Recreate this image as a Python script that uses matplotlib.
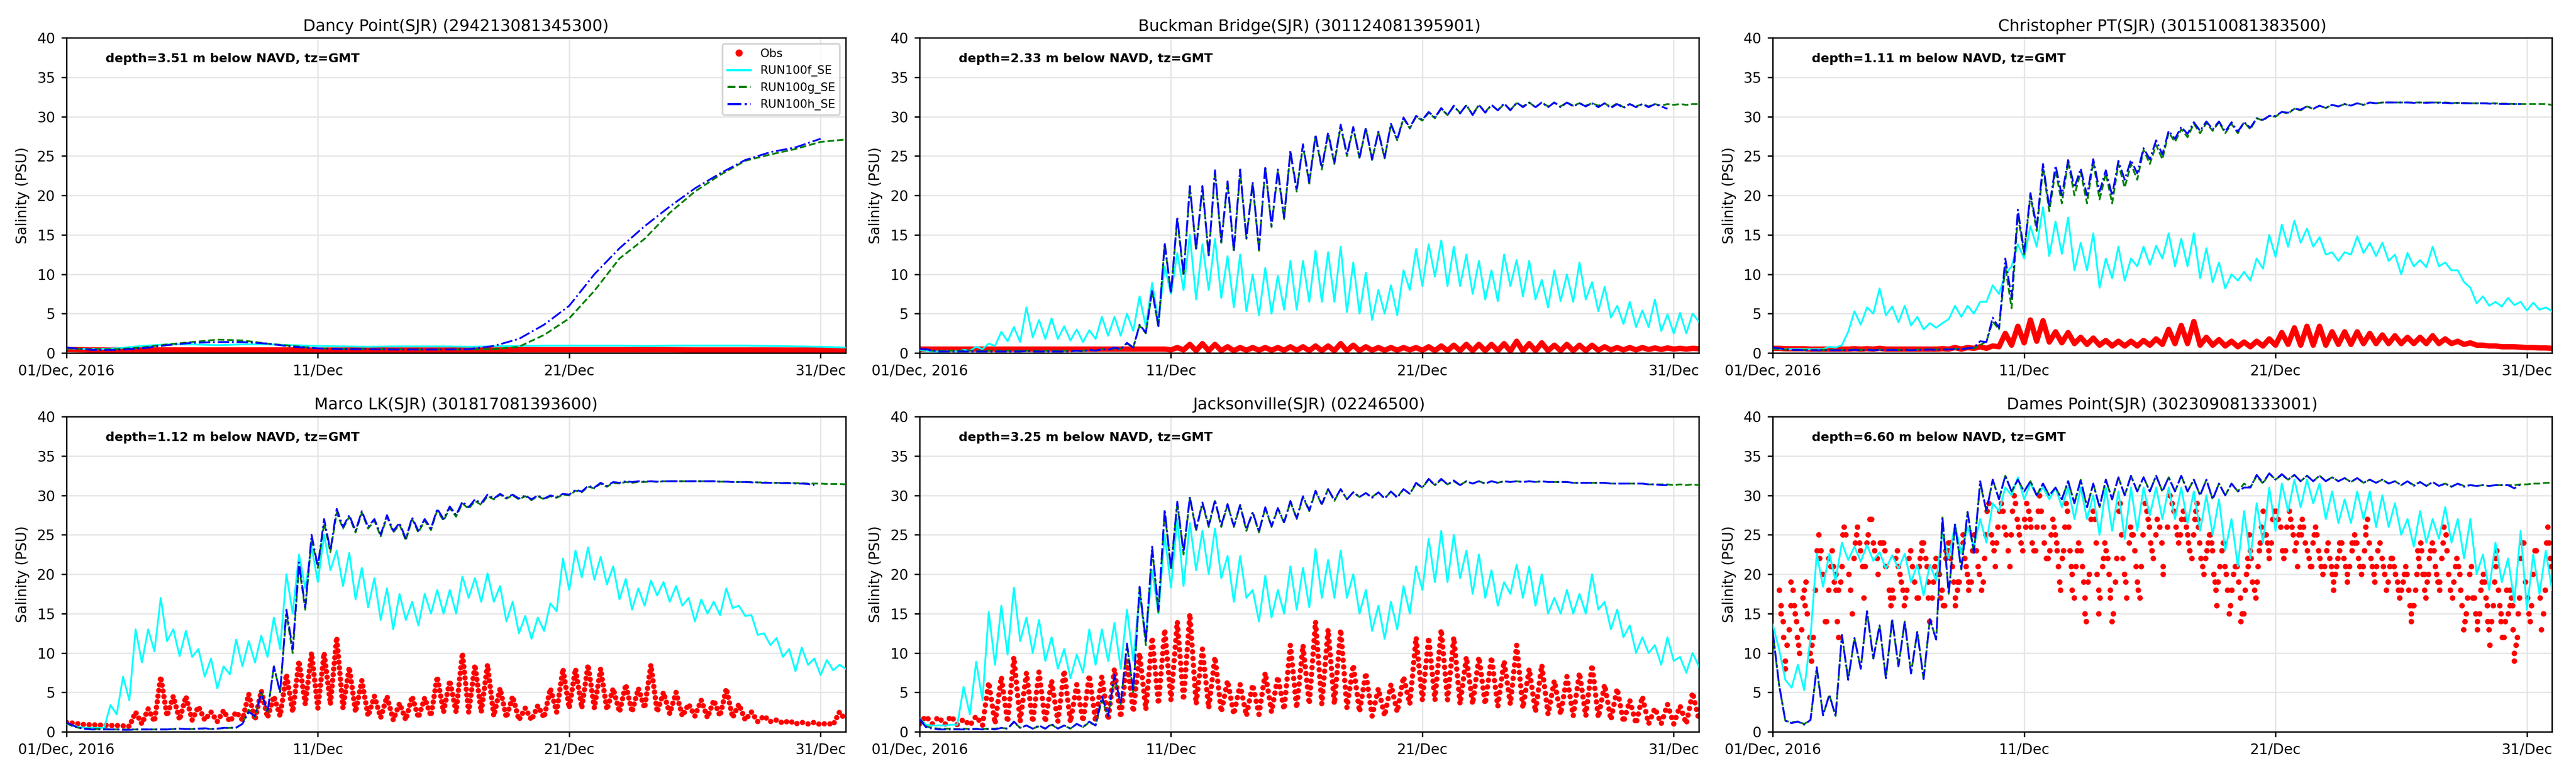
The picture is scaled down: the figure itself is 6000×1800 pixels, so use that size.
import matplotlib

matplotlib.use('Agg')  # no display in the sandbox
import matplotlib.pyplot as plt
from matplotlib.lines import Line2D
import numpy as np

# time axis: days since 01/Dec/2016 00:00 GMT
# model series are read off the picture every 6 h (4 values per day line)
t_6h = np.arange(125) * 0.25
t_day = np.arange(32) * 1.0

tick_days = [0, 10, 20, 30]
tick_labels = ['01/Dec, 2016', '11/Dec', '21/Dec', '31/Dec']

titles = ['Dancy Point(SJR) (294213081345300)',
          'Buckman Bridge(SJR) (301124081395901)',
          'Christopher PT(SJR) (301510081383500)',
          'Marco LK(SJR) (301817081393600)',
          'Jacksonville(SJR) (02246500)',
          'Dames Point(SJR) (302309081333001)']
depths = ['3.51', '2.33', '1.11', '1.12', '3.25', '6.60']
run_names = ['RUN100f_SE', 'RUN100g_SE', 'RUN100h_SE']

# ---------------- Dancy Point (daily values) ----------------
dancy_obs = [0.45, 0.4, 0.4, 0.4, 0.4, 0.4, 0.4, 0.4, 0.4, 0.4, 0.38, 0.38, 0.38, 0.38, 0.38, 0.38,
             0.4, 0.4, 0.42, 0.42, 0.42, 0.42, 0.42, 0.42, 0.42, 0.4, 0.4, 0.4, 0.4, 0.38, 0.38, 0.38]
dancy_f = [0.6, 0.5, 0.6, 0.9, 1.1, 1.1, 1.0, 1.1, 1.1, 1.0, 0.9, 0.85, 0.8, 0.85, 0.85, 0.85,
           0.8, 0.85, 0.9, 0.95, 0.95, 0.95, 0.95, 0.9, 0.95, 0.95, 0.95, 0.95, 0.9, 0.85, 0.8, 0.7]
dancy_g = [0.6, 0.5, 0.5, 0.7, 1.1, 1.4, 1.7, 1.6, 1.2, 0.9, 0.6, 0.55, 0.5, 0.5, 0.45, 0.45,
           0.45, 0.5, 0.8, 2.3, 4.4, 7.9, 12.0, 14.5, 17.8, 20.5, 22.6, 24.4, 25.2, 25.9, 26.8, 27.1]
dancy_h = [0.7, 0.4, 0.4, 0.6, 1.0, 1.3, 1.4, 1.4, 1.2, 0.8, 0.6, 0.5, 0.5, 0.45, 0.45, 0.45,
           0.5, 0.9, 1.8, 3.6, 6.0, 10.0, 13.3, 16.1, 18.6, 20.9, 22.8, 24.5, 25.5, 26.1, 27.2]

# ---------------- Buckman Bridge ----------------
buckman_obs = [
    0.5, 0.5, 0.5, 0.5, 0.5, 0.5, 0.5, 0.5, 0.5, 0.5, 0.5, 0.5, 0.5, 0.5, 0.5, 0.5,
    0.5, 0.5, 0.5, 0.5, 0.5, 0.5, 0.5, 0.5, 0.5, 0.5, 0.5, 0.5, 0.5, 0.5, 0.5, 0.5,
    0.5, 0.5, 0.5, 0.5, 0.5, 0.5, 0.5, 0.5,
    0.4, 0.7, 0.4, 1.1,
    0.3, 1.2, 0.3, 1.1,
    0.3, 0.8, 0.3, 0.7,
    0.35, 0.7, 0.35, 0.7,
    0.35, 0.7, 0.35, 0.8,
    0.35, 0.8, 0.3, 0.9,
    0.3, 0.9, 0.3, 1.2,
    0.3, 1.0, 0.3, 0.8,
    0.35, 0.7, 0.35, 0.7,
    0.35, 0.7, 0.4, 0.7,
    0.35, 0.8, 0.3, 0.9,
    0.3, 1.0, 0.3, 1.1,
    0.3, 1.1, 0.3, 1.1,
    0.3, 1.2, 0.25, 1.5,
    0.25, 1.2, 0.3, 1.3,
    0.3, 1.0, 0.3, 1.1,
    0.3, 1.0, 0.3, 1.0,
    0.35, 0.8, 0.4, 0.7,
    0.4, 0.7, 0.4, 0.7,
    0.45, 0.65, 0.45, 0.65,
    0.5, 0.6, 0.5, 0.6,
    0.55]
buckman_f = [
    0.4, 0.3, 0.2, 0.2,
    0.2, 0.3, 0.2, 0.4,
    0.3, 0.8, 0.5, 1.2,
    0.9, 2.7, 1.5, 3.3,
    1.4, 5.8, 2.0, 4.2,
    1.8, 4.4, 1.8, 3.4,
    1.6, 3.0, 1.4, 2.9,
    1.8, 4.6, 2.2, 4.6,
    2.2, 5.0, 2.8, 7.2,
    3.3, 8.9, 4.0, 11.0,
    7.5, 12.7, 8.0, 15.0,
    6.8, 13.8, 8.0, 14.5,
    7.0, 12.3, 5.8, 12.5,
    5.3, 10.0, 4.8, 10.8,
    5.0, 9.8, 5.5, 11.7,
    5.5, 11.7, 6.5, 13.0,
    6.5, 12.8, 6.5, 13.5,
    5.2, 11.5, 5.0, 10.2,
    4.2, 8.0, 5.0, 8.6,
    4.8, 10.5, 8.0, 13.2,
    8.5, 13.8, 9.7, 14.3,
    8.5, 13.5, 8.5, 12.5,
    7.5, 11.7, 6.8, 10.5,
    6.6, 12.5, 8.5, 11.8,
    7.2, 11.7, 6.8, 9.3,
    5.8, 10.5, 6.6, 10.0,
    6.5, 11.5, 6.8, 9.0,
    5.3, 8.4, 4.5, 6.0,
    3.7, 6.5, 3.3, 5.4,
    3.3, 6.8, 2.8, 4.9,
    2.5, 5.1, 2.5, 5.0,
    4.0]
buckman_g = [
    0.5, 0.4, 0.3, 0.3,
    0.3, 0.3, 0.3, 0.3,
    0.3, 0.3, 0.3, 0.3,
    0.3, 0.3, 0.3, 0.3,
    0.3, 0.3, 0.3, 0.3,
    0.3, 0.3, 0.3, 0.3,
    0.3, 0.3, 0.3, 0.4,
    0.3, 0.5, 0.4, 0.6,
    0.5, 1.2, 0.7, 3.5,
    2.5, 7.9, 3.3, 13.8,
    7.5, 17.0, 9.8, 21.0,
    13.0, 21.0, 12.2, 23.0,
    14.0, 21.5, 12.8, 23.0,
    14.5, 21.5, 13.0, 23.5,
    16.0, 23.0, 17.0, 25.5,
    20.5, 26.3, 21.5, 27.5,
    23.3, 27.8, 24.0, 28.8,
    25.0, 28.6, 24.7, 28.5,
    24.5, 28.0, 24.7, 29.0,
    27.0, 29.8, 28.5, 30.0,
    29.5, 30.5, 29.8, 31.0,
    30.2, 31.3, 30.5, 31.4,
    30.3, 31.5, 30.6, 31.5,
    30.8, 31.6, 30.9, 31.7,
    31.3, 31.8, 31.2, 31.8,
    31.3, 31.8, 31.3, 31.8,
    31.4, 31.7, 31.4, 31.7,
    31.4, 31.7, 31.2, 31.7,
    31.2, 31.6, 31.3, 31.6,
    31.3, 31.6, 31.4, 31.6,
    31.5, 31.6, 31.5, 31.6,
    31.6]
buckman_h = [
    0.5, 0.5, 0.3, 0.2,
    0.2, 0.2, 0.2, 0.2,
    0.2, 0.2, 0.2, 0.2,
    0.2, 0.2, 0.2, 0.2,
    0.2, 0.25, 0.2, 0.2,
    0.2, 0.2, 0.2, 0.2,
    0.2, 0.3, 0.2, 0.4,
    0.3, 0.5, 0.4, 0.7,
    0.5, 1.3, 0.7, 3.6,
    2.6, 8.0, 3.4, 14.0,
    7.6, 17.3, 10.0, 21.2,
    13.2, 21.2, 12.4, 23.2,
    14.2, 21.8, 13.0, 23.3,
    14.6, 21.7, 13.2, 23.7,
    16.2, 23.3, 17.2, 25.7,
    20.7, 26.5, 21.7, 27.7,
    23.5, 28.0, 24.2, 29.0,
    25.2, 28.7, 24.8, 28.6,
    24.6, 28.1, 24.8, 29.1,
    27.1, 29.9, 28.6, 30.1,
    29.6, 30.6, 29.9, 31.1,
    30.2, 31.4, 30.4, 31.5,
    30.2, 31.5, 30.5, 31.5,
    30.8, 31.7, 30.8, 31.8,
    31.2, 31.8, 31.2, 31.8,
    31.2, 31.8, 31.2, 31.8,
    31.3, 31.7, 31.3, 31.7,
    31.2, 31.7, 31.1, 31.6,
    31.1, 31.6, 31.2, 31.6,
    31.2, 31.6, 31.3, 31.0]

# ---------------- Christopher PT ----------------
christopher_obs = [
    0.6, 0.6, 0.55, 0.55,
    0.55, 0.55, 0.5, 0.5,
    0.5, 0.5, 0.5, 0.5,
    0.5, 0.55, 0.5, 0.55,
    0.5, 0.6, 0.5, 0.5,
    0.5, 0.5, 0.5, 0.5,
    0.5, 0.5, 0.5, 0.55,
    0.5, 0.7, 0.5, 0.7,
    0.6, 0.8, 0.6, 0.9,
    0.8, 2.5, 1.0, 3.4,
    1.3, 4.2, 1.5, 4.1,
    1.4, 2.7, 1.3, 2.6,
    1.2, 2.0, 1.1, 1.9,
    1.0, 1.6, 0.9, 1.5,
    0.9, 1.5, 0.9, 1.6,
    1.0, 1.8, 1.1, 3.0,
    1.2, 3.5, 1.2, 4.0,
    1.0, 2.0, 1.0, 1.7,
    0.9, 1.5, 0.8, 1.4,
    0.8, 1.5, 0.9, 1.8,
    1.0, 2.6, 1.1, 3.2,
    1.0, 3.4, 1.0, 3.4,
    1.0, 2.7, 1.1, 2.7,
    1.1, 2.7, 1.2, 2.5,
    1.2, 2.3, 1.2, 2.2,
    1.2, 2.0, 1.2, 2.0,
    1.2, 2.2, 1.2, 1.8,
    1.2, 1.5, 1.1, 1.3,
    1.0, 1.0, 0.9, 0.9,
    0.8, 0.8, 0.8, 0.75,
    0.7, 0.7, 0.65, 0.65,
    0.6]
christopher_f = [
    0.6, 0.5, 0.5, 0.5,
    0.5, 0.5, 0.5, 0.5,
    0.5, 0.8, 0.7, 1.0,
    2.7, 5.3, 3.6, 5.8,
    5.0, 8.2, 4.8, 5.9,
    3.9, 6.0, 3.5, 4.6,
    3.0, 3.8, 3.2, 3.8,
    4.3, 6.0, 4.6, 6.0,
    5.0, 6.5, 6.5, 8.6,
    7.5, 10.0, 11.0, 13.8,
    12.0, 16.1, 13.5, 18.5,
    12.3, 16.7, 12.6, 17.2,
    10.5, 14.0, 10.5, 15.2,
    8.3, 12.0, 9.5, 13.5,
    9.2, 12.0, 11.0, 13.5,
    11.2, 13.6, 12.0, 15.2,
    11.0, 14.5, 11.0, 15.2,
    9.5, 13.3, 9.0, 11.5,
    8.2, 10.0, 9.2, 10.3,
    9.2, 12.0, 10.7, 15.0,
    12.2, 16.3, 13.5, 16.8,
    14.0, 15.8, 13.5, 14.7,
    12.5, 12.8, 11.7, 12.8,
    12.5, 14.8, 12.7, 14.0,
    12.3, 14.0, 11.7, 12.5,
    10.0, 12.7, 11.0, 11.8,
    10.9, 13.5, 11.0, 11.5,
    10.5, 10.5, 9.0, 8.3,
    6.3, 7.2, 6.0, 6.5,
    5.9, 7.0, 6.1, 6.5,
    5.4, 6.4, 5.5, 5.8,
    5.3]
christopher_g = [
    0.6, 0.5, 0.45, 0.4,
    0.4, 0.4, 0.4, 0.4,
    0.4, 0.4, 0.4, 0.4,
    0.4, 0.45, 0.4, 0.45,
    0.4, 0.45, 0.4, 0.45,
    0.4, 0.45, 0.4, 0.45,
    0.45, 0.5, 0.45, 0.5,
    0.5, 0.55, 0.55, 0.6,
    0.6, 1.0, 1.5, 4.0,
    3.0, 11.0, 5.7, 17.5,
    12.5, 20.0, 15.5, 23.5,
    18.0, 23.2, 19.0, 24.3,
    20.0, 23.0, 19.0, 24.3,
    19.5, 22.8, 19.0, 24.0,
    21.0, 24.0, 22.0, 25.8,
    24.0, 26.4, 24.6, 28.0,
    26.8, 28.4, 27.4, 29.1,
    27.9, 29.2, 28.2, 29.3,
    27.9, 29.1, 27.9, 29.3,
    28.4, 29.8, 29.5, 30.1,
    30.0, 30.6, 30.4, 31.0,
    30.8, 31.3, 31.0, 31.4,
    31.1, 31.5, 31.3, 31.6,
    31.4, 31.7, 31.5, 31.8,
    31.7, 31.8, 31.8, 31.8,
    31.8, 31.8, 31.8, 31.8,
    31.8, 31.8, 31.8, 31.8,
    31.75, 31.75, 31.75, 31.7,
    31.7, 31.7, 31.7, 31.7,
    31.65, 31.65, 31.6, 31.6,
    31.6, 31.6, 31.6, 31.6,
    31.5]
christopher_h = [
    0.7, 0.6, 0.5, 0.4,
    0.4, 0.35, 0.35, 0.35,
    0.35, 0.35, 0.35, 0.35,
    0.35, 0.4, 0.35, 0.4,
    0.35, 0.4, 0.35, 0.4,
    0.35, 0.4, 0.35, 0.4,
    0.4, 0.45, 0.4, 0.45,
    0.45, 0.5, 0.5, 0.6,
    0.7, 1.5, 1.4, 4.5,
    3.2, 12.0, 7.0, 18.2,
    12.8, 20.3, 16.0, 24.0,
    18.5, 23.8, 20.0, 24.5,
    21.0, 23.4, 20.0, 24.6,
    20.5, 23.2, 20.0, 24.4,
    22.0, 24.5, 22.8, 26.0,
    24.6, 27.0, 25.2, 28.2,
    27.2, 28.7, 27.8, 29.3,
    28.2, 29.4, 28.4, 29.4,
    28.1, 29.3, 28.1, 29.3,
    28.6, 29.8, 29.6, 30.1,
    30.1, 30.6, 30.5, 31.0,
    30.9, 31.3, 31.0, 31.4,
    31.1, 31.5, 31.3, 31.6,
    31.4, 31.7, 31.5, 31.8,
    31.7, 31.8, 31.8, 31.8,
    31.8, 31.8, 31.75, 31.8,
    31.75, 31.8, 31.75, 31.75,
    31.7, 31.75, 31.7, 31.7,
    31.7, 31.7, 31.65, 31.65,
    31.6, 31.6, 31.6, 31.6]

# ---------------- Marco LK ----------------
marco_obs = [
    1.2, 1.1, 1.0, 0.9,
    0.9, 0.85, 0.85, 0.8,
    0.8, 0.75, 0.7, 2.5,
    1.0, 2.9, 1.3, 7.0,
    2.0, 4.5, 1.5, 4.5,
    1.5, 3.2, 1.5, 2.5,
    1.3, 2.7, 1.3, 2.5,
    1.5, 4.8, 1.5, 5.2,
    1.8, 4.5, 2.0, 7.3,
    2.5, 9.0, 3.5, 10.0,
    3.0, 10.0, 3.5, 12.0,
    3.0, 8.2, 2.5, 6.5,
    2.0, 4.5, 1.8, 4.5,
    1.5, 3.6, 1.5, 4.5,
    1.8, 4.3, 2.0, 7.0,
    2.5, 6.5, 2.5, 10.0,
    2.5, 8.5, 2.5, 8.5,
    2.0, 5.5, 1.8, 4.5,
    1.5, 3.0, 1.5, 3.3,
    1.8, 5.5, 2.5, 8.0,
    3.0, 8.0, 3.0, 8.5,
    3.0, 8.0, 2.8, 5.5,
    2.5, 6.0, 2.5, 5.5,
    3.0, 8.5, 2.5, 5.0,
    2.3, 5.0, 2.0, 3.5,
    2.0, 4.0, 1.8, 4.0,
    2.0, 5.5, 1.8, 3.5,
    1.5, 2.5, 1.3, 2.0,
    1.3, 1.5, 1.1, 1.4,
    1.0, 1.2, 1.0, 1.2,
    0.9, 1.1, 0.9, 2.5,
    1.5]
marco_f = [
    1.0, 0.8, 0.6, 0.5,
    0.5, 0.5, 0.5, 3.4,
    2.2, 7.0, 4.0, 13.0,
    8.8, 13.0, 10.2, 17.0,
    11.5, 13.0, 9.6, 12.8,
    9.5, 10.5, 7.0, 9.3,
    5.5, 8.3, 7.3, 11.7,
    8.3, 11.5, 8.8, 12.2,
    9.5, 14.5, 10.5, 20.0,
    15.0, 22.5, 18.2, 23.5,
    19.0, 25.0, 20.5, 23.0,
    18.5, 22.7, 16.8, 20.8,
    15.8, 19.5, 14.2, 18.2,
    13.0, 17.5, 14.2, 16.5,
    13.5, 17.5, 15.0, 18.0,
    15.0, 18.0, 15.0, 19.7,
    17.0, 19.5, 16.5, 20.1,
    16.5, 18.5, 14.0, 16.5,
    12.5, 14.7, 11.8, 14.5,
    12.8, 16.3, 15.3, 22.0,
    18.0, 23.0, 19.6, 23.4,
    19.3, 22.2, 18.7, 21.0,
    16.8, 19.4, 15.5, 18.2,
    16.0, 19.2, 17.3, 19.0,
    16.5, 18.5, 16.0, 17.0,
    14.0, 16.8, 15.0, 16.5,
    14.8, 18.2, 15.7, 16.0,
    14.7, 14.8, 12.3, 12.5,
    11.0, 11.9, 9.5, 10.5,
    7.7, 10.7, 8.5, 9.3,
    7.2, 9.1, 7.8, 8.5,
    8.0]
marco_g = [
    1.1, 0.7, 0.5, 0.4,
    0.4, 0.35, 0.35, 0.3,
    0.3, 0.3, 0.3, 0.3,
    0.3, 0.3, 0.3, 0.3,
    0.3, 0.35, 0.4, 0.35,
    0.35, 0.4, 0.4, 0.35,
    0.4, 0.45, 0.5, 0.5,
    1.0, 2.8, 1.8, 5.0,
    2.5, 8.3, 5.0, 15.0,
    10.0, 21.0, 15.5, 24.5,
    20.8, 26.5, 22.8, 27.8,
    25.8, 27.3, 25.3, 27.8,
    25.8, 26.8, 24.8, 27.3,
    25.3, 26.3, 24.3, 27.0,
    25.3, 26.8, 25.6, 28.1,
    26.8, 28.4, 27.3, 29.0,
    28.3, 29.3, 28.8, 29.9,
    29.5, 30.1, 29.6, 30.0,
    29.5, 29.9, 29.4, 29.9,
    29.5, 29.9, 29.7, 30.1,
    30.0, 30.6, 30.4, 31.1,
    30.9, 31.5, 31.1, 31.6,
    31.5, 31.7, 31.6, 31.7,
    31.7, 31.8, 31.7, 31.8,
    31.8, 31.8, 31.8, 31.8,
    31.8, 31.8, 31.8, 31.8,
    31.75, 31.75, 31.7, 31.7,
    31.7, 31.7, 31.65, 31.65,
    31.6, 31.6, 31.6, 31.6,
    31.55, 31.55, 31.5, 31.5,
    31.5, 31.45, 31.45, 31.45,
    31.4]
marco_h = [
    1.2, 0.8, 0.5, 0.35,
    0.3, 0.3, 0.3, 0.3,
    0.3, 0.25, 0.25, 0.3,
    0.3, 0.3, 0.3, 0.3,
    0.3, 0.35, 0.4, 0.35,
    0.35, 0.4, 0.45, 0.35,
    0.4, 0.5, 0.5, 0.55,
    1.0, 2.5, 2.0, 5.0,
    2.5, 8.3, 5.0, 15.5,
    10.5, 21.5, 15.8, 25.0,
    21.0, 27.0, 23.0, 28.3,
    26.0, 27.5, 25.5, 28.0,
    26.0, 27.0, 25.0, 27.5,
    25.5, 26.5, 24.5, 27.2,
    25.5, 27.0, 25.8, 28.3,
    27.0, 28.6, 27.5, 29.2,
    28.5, 29.5, 29.0, 30.1,
    29.6, 30.2, 29.7, 30.1,
    29.6, 30.0, 29.5, 30.0,
    29.6, 30.0, 29.8, 30.2,
    30.1, 30.7, 30.5, 31.2,
    31.0, 31.6, 31.2, 31.7,
    31.6, 31.8, 31.7, 31.8,
    31.75, 31.8, 31.75, 31.8,
    31.8, 31.8, 31.8, 31.8,
    31.8, 31.8, 31.8, 31.8,
    31.75, 31.75, 31.7, 31.7,
    31.7, 31.65, 31.65, 31.6,
    31.6, 31.6, 31.55, 31.55,
    31.5, 31.5, 31.45, 31.3]

# ---------------- Jacksonville ----------------
jax_obs = [
    1.0, 2.0, 1.0, 1.9,
    0.9, 2.0, 0.9, 1.6,
    0.8, 2.0, 0.8, 6.3,
    1.0, 7.0, 1.2, 9.5,
    1.3, 7.5, 1.2, 7.6,
    1.2, 6.5, 1.3, 7.8,
    1.2, 6.0, 1.3, 7.2,
    1.3, 7.0, 1.5, 8.0,
    1.8, 9.0, 2.5, 10.0,
    2.8, 12.0, 3.5, 13.0,
    4.0, 14.0, 4.0, 15.0,
    3.5, 10.5, 3.0, 9.5,
    2.5, 6.5, 2.2, 6.0,
    2.0, 6.0, 2.2, 7.5,
    2.5, 7.0, 2.8, 11.0,
    3.0, 11.0, 3.5, 14.0,
    3.5, 13.0, 3.5, 13.0,
    3.0, 8.5, 2.5, 7.5,
    2.0, 5.5, 2.0, 6.0,
    2.5, 7.0, 3.5, 12.0,
    4.0, 12.0, 4.0, 13.0,
    4.0, 12.0, 3.5, 9.5,
    3.5, 9.5, 3.5, 9.5,
    3.2, 9.0, 3.5, 11.0,
    3.0, 8.0, 2.5, 8.5,
    2.2, 6.5, 2.2, 7.0,
    2.0, 7.5, 2.0, 8.5,
    1.8, 6.0, 1.5, 5.5,
    1.2, 4.0, 1.0, 4.5,
    1.0, 3.0, 1.0, 3.5,
    1.0, 3.3, 1.0, 5.0,
    1.5]
jax_f = [
    1.7, 0.9, 0.8, 0.8,
    0.8, 0.9, 0.9, 5.7,
    2.2, 8.9, 4.0, 15.2,
    8.5, 16.0, 9.8, 18.3,
    11.5, 14.5, 10.0, 14.2,
    9.0, 12.0, 8.0, 10.5,
    6.8, 9.8, 7.5, 13.0,
    8.5, 13.0, 9.0, 13.8,
    8.0, 15.5, 9.0, 17.5,
    12.0, 20.5, 15.0, 25.0,
    18.3, 27.0, 18.5, 26.5,
    20.5, 25.5, 20.0, 25.8,
    19.5, 22.3, 16.5, 22.3,
    17.0, 18.0, 14.0, 19.8,
    14.5, 18.0, 15.0, 21.0,
    15.5, 20.8, 15.8, 23.2,
    17.0, 21.8, 17.0, 23.0,
    17.0, 20.0, 15.0, 18.0,
    12.8, 16.0, 11.8, 16.5,
    13.0, 18.5, 15.0, 21.0,
    18.0, 24.5, 19.0, 25.5,
    19.0, 25.0, 19.5, 23.0,
    17.5, 22.5, 17.0, 20.5,
    16.0, 19.0, 17.5, 21.2,
    17.0, 21.0, 16.0, 20.0,
    15.0, 17.0, 15.0, 18.0,
    15.0, 17.5, 15.0, 20.0,
    15.5, 16.5, 13.0, 15.5,
    12.0, 13.5, 10.0, 12.0,
    10.0, 11.0, 8.5, 12.0,
    9.0, 9.5, 7.5, 10.0,
    8.3]
jax_g = [
    1.7, 0.7, 0.5, 0.4,
    0.4, 0.4, 0.35, 0.4,
    0.35, 0.4, 0.35, 0.4,
    0.4, 0.5, 0.4, 1.2,
    0.5, 0.8, 0.4, 0.7,
    0.4, 0.9, 0.4, 0.8,
    0.4, 1.0, 0.6, 1.2,
    0.8, 4.0, 2.0, 7.0,
    3.5, 11.0, 5.0, 18.2,
    11.0, 23.3, 15.0, 28.0,
    20.5, 29.0, 22.5, 29.7,
    25.5, 29.0, 26.0, 29.3,
    26.0, 28.8, 26.0, 28.7,
    25.5, 27.8, 25.3, 28.4,
    26.0, 28.3, 26.5, 29.2,
    27.0, 29.8, 28.0, 30.5,
    28.8, 30.8, 29.3, 30.8,
    29.5, 30.4, 29.8, 30.3,
    29.8, 30.4, 29.6, 30.5,
    29.8, 30.8, 30.2, 31.5,
    31.0, 32.0, 31.3, 32.0,
    31.4, 31.8, 31.3, 31.8,
    31.5, 31.8, 31.5, 31.8,
    31.6, 31.8, 31.7, 31.8,
    31.7, 31.8, 31.7, 31.8,
    31.7, 31.7, 31.7, 31.7,
    31.6, 31.6, 31.6, 31.6,
    31.6, 31.6, 31.5, 31.5,
    31.5, 31.5, 31.5, 31.5,
    31.4, 31.4, 31.4, 31.4,
    31.3, 31.4, 31.3, 31.4,
    31.3]
jax_h = [
    1.6, 0.6, 0.4, 0.3,
    0.3, 0.3, 0.3, 0.3,
    0.3, 0.35, 0.3, 0.35,
    0.3, 0.5, 0.4, 1.3,
    0.5, 0.8, 0.4, 0.8,
    0.4, 1.0, 0.4, 0.8,
    0.4, 1.0, 0.6, 1.3,
    0.8, 4.5, 2.0, 7.2,
    3.5, 11.2, 5.2, 18.4,
    11.5, 23.5, 15.5, 28.2,
    20.8, 29.2, 22.8, 29.8,
    25.7, 29.1, 26.2, 29.4,
    26.2, 28.9, 26.1, 28.8,
    25.7, 27.9, 25.4, 28.5,
    26.1, 28.4, 26.6, 29.3,
    27.1, 29.9, 28.1, 30.6,
    28.9, 30.8, 29.4, 30.8,
    29.5, 30.4, 29.8, 30.3,
    29.7, 30.4, 29.6, 30.5,
    29.7, 30.8, 30.2, 31.6,
    31.0, 32.1, 31.3, 32.1,
    31.4, 31.9, 31.3, 31.8,
    31.5, 31.8, 31.5, 31.8,
    31.6, 31.8, 31.7, 31.8,
    31.7, 31.8, 31.7, 31.8,
    31.7, 31.7, 31.7, 31.7,
    31.6, 31.6, 31.6, 31.6,
    31.6, 31.6, 31.5, 31.5,
    31.5, 31.5, 31.5, 31.5,
    31.4, 31.4, 31.3, 31.3]

# ---------------- Dames Point ----------------
# hourly gauge record in whole PSU: (day, value) of each visible dot
dames_obs_day = [
    0.25, 0.32, 0.32, 0.40, 0.43, 0.50, 0.50, 0.57, 0.65, 0.72, 0.72, 0.80, 0.85, 0.89, 0.93, 0.98,
    1.02, 1.06, 1.14, 1.19, 1.24, 1.28, 1.31, 1.36, 1.46, 1.49, 1.53, 1.56, 1.61, 1.69, 1.76, 1.83,
    1.86, 1.91, 1.98, 2.08, 2.14, 2.21, 2.21, 2.31, 2.36, 2.41, 2.44, 2.51, 2.51, 2.56, 2.61, 2.61,
    2.69, 2.74, 2.78, 2.84, 2.91, 3.02, 3.09, 3.15, 3.22, 3.27, 3.32, 3.37, 3.45, 3.49, 3.57, 3.62,
    3.67, 3.74, 3.79, 3.85, 3.92, 4.00, 4.05, 4.14, 4.19, 4.27, 4.34, 4.40, 4.45, 4.49, 4.62, 4.67,
    4.70, 4.74, 4.79, 4.89, 4.95, 4.99, 5.05, 5.10, 5.18, 5.23, 5.28, 5.33, 5.41, 5.48, 5.55, 5.63,
    5.73, 5.78, 5.83, 5.86, 5.93, 5.93, 6.00, 6.08, 6.13, 6.18, 6.18, 6.24, 6.33, 6.38, 6.43, 6.48,
    6.56, 6.63, 6.68, 6.73, 6.78, 6.83, 6.88, 6.88, 6.98, 6.98, 7.07, 7.07, 7.14, 7.19, 7.26, 7.26,
    7.34, 7.34, 7.41, 7.49, 7.56, 7.56, 7.64, 7.69, 7.74, 7.79, 7.79, 7.89, 7.94, 8.01, 8.09, 8.17,
    8.21, 8.29, 8.36, 8.42, 8.47, 8.52, 8.59, 8.69, 8.74, 8.79, 8.84, 8.89, 8.94, 9.02, 9.08, 9.15,
    9.20, 9.27, 9.35, 9.43, 9.47, 9.52, 9.60, 9.65, 9.72, 9.77, 9.80, 9.87, 9.93, 10.00, 10.05, 10.10,
    10.18, 10.22, 10.27, 10.32, 10.38, 10.45, 10.50, 10.55, 10.60, 10.67, 10.75, 10.80, 10.87, 10.95,
    11.01, 11.06, 11.13, 11.18, 11.23, 11.28, 11.31, 11.36, 11.41, 11.44, 11.51, 11.56, 11.61, 11.66,
    11.71, 11.76, 11.81, 11.86, 11.91, 11.91, 11.98, 12.06, 12.11, 12.16, 12.26, 12.31, 12.36, 12.41,
    12.41, 12.46, 12.53, 12.59, 12.66, 12.74, 12.81, 12.86, 12.89, 12.96, 12.96, 13.02, 13.12, 13.15,
    13.20, 13.25, 13.32, 13.37, 13.42, 13.42, 13.49, 13.54, 13.62, 13.67, 13.77, 13.82, 13.87, 13.92,
    13.99, 14.04, 14.07, 14.17, 14.22, 14.27, 14.32, 14.39, 14.45, 14.49, 14.54, 14.60, 14.65, 14.72,
    14.80, 14.87, 14.92, 14.97, 15.03, 15.08, 15.13, 15.23, 15.28, 15.38, 15.48, 15.53, 15.53, 15.70,
    15.80, 15.88, 15.95, 16.03, 16.08, 16.13, 16.20, 16.25, 16.32, 16.40, 16.45, 16.50, 16.53, 16.58,
    16.67, 16.73, 16.78, 16.82, 16.87, 16.90, 16.93, 16.98, 17.03, 17.10, 17.15, 17.21, 17.26, 17.31,
    17.36, 17.41, 17.46, 17.48, 17.54, 17.59, 17.63, 17.66, 17.71, 17.78, 17.86, 17.91, 17.98, 18.03,
    18.09, 18.16, 18.21, 18.26, 18.33, 18.39, 18.46, 18.53, 18.59, 18.61, 18.66, 18.74, 18.79, 18.83,
    18.88, 18.91, 18.96, 18.99, 19.03, 19.08, 19.16, 19.22, 19.27, 19.30, 19.35, 19.39, 19.44, 19.50,
    19.55, 19.62, 19.67, 19.72, 19.75, 19.82, 19.87, 19.94, 20.02, 20.10, 20.20, 20.27, 20.32, 20.39,
    20.45, 20.54, 20.59, 20.64, 20.70, 20.77, 20.82, 20.87, 20.92, 20.97, 21.03, 21.06, 21.11, 21.18,
    21.26, 21.33, 21.38, 21.43, 21.48, 21.53, 21.58, 21.63, 21.70, 21.75, 21.81, 21.88, 21.95, 22.03,
    22.08, 22.15, 22.21, 22.25, 22.31, 22.31, 22.38, 22.43, 22.48, 22.55, 22.55, 22.63, 22.71, 22.78,
    22.85, 22.85, 22.93, 23.03, 23.03, 23.14, 23.14, 23.22, 23.29, 23.34, 23.41, 23.49, 23.54, 23.59,
    23.59, 23.66, 23.72, 23.79, 23.84, 23.91, 23.94, 24.01, 24.06, 24.14, 24.24, 24.29, 24.34, 24.41,
    24.47, 24.54, 24.59, 24.64, 24.72, 24.77, 24.84, 24.89, 24.94, 25.01, 25.07, 25.12, 25.17, 25.23,
    25.29, 25.34, 25.40, 25.40, 25.45, 25.50, 25.57, 25.62, 25.65, 25.68, 25.72, 25.77, 25.80, 25.85,
    25.92, 25.92, 25.98, 26.03, 26.07, 26.12, 26.17, 26.23, 26.30, 26.35, 26.40, 26.45, 26.52, 26.52,
    26.60, 26.65, 26.70, 26.77, 26.81, 26.88, 26.95, 27.03, 27.09, 27.15, 27.21, 27.27, 27.32, 27.36,
    27.41, 27.48, 27.53, 27.58, 27.64, 27.71, 27.78, 27.84, 27.91, 27.96, 28.03, 28.03, 28.11, 28.16,
    28.21, 28.26, 28.31, 28.36, 28.41, 28.44, 28.49, 28.52, 28.58, 28.66, 28.71, 28.76, 28.76, 28.79,
    28.86, 28.91, 28.96, 28.96, 29.01, 29.08, 29.13, 29.19, 29.25, 29.32, 29.32, 29.37, 29.42, 29.45,
    29.49, 29.49, 29.57, 29.62, 29.65, 29.70, 29.75, 29.80, 29.87, 29.94, 30.02, 30.07, 30.12, 30.17,
    30.25, 30.32, 30.37, 30.52, 30.57, 30.65, 30.72, 30.77, 30.82, 30.87, 30.92, 30.97]
dames_obs_psu = [
    18, 16, 15, 14, 12, 9, 8, 11, 13, 19, 16, 18, 16, 15, 14, 12,
    11, 10, 13, 17, 18, 16, 19, 15, 12, 10, 9, 11, 12, 18, 23, 25,
    22, 23, 20, 14, 14, 18, 22, 21, 23, 21, 19, 18, 20, 14, 12, 18,
    19, 21, 25, 26, 25, 20, 18, 15, 22, 24, 25, 26, 24, 23, 21, 17,
    21, 24, 25, 27, 27, 24, 23, 22, 20, 24, 24, 24, 23, 21, 18, 17,
    16, 18, 17, 22, 23, 21, 20, 19, 18, 16, 17, 18, 22, 23, 21, 19,
    17, 17, 21, 22, 23, 24, 24, 22, 21, 19, 17, 14, 17, 19, 21, 22,
    20, 20, 17, 18, 16, 16, 22, 23, 24, 23, 24, 22, 21, 19, 17, 16,
    18, 19, 19, 23, 24, 25, 22, 21, 20, 19, 18, 19, 23, 25, 23, 21,
    20, 18, 19, 22, 25, 28, 29, 25, 24, 23, 21, 24, 26, 28, 29, 28,
    26, 25, 23, 21, 25, 28, 30, 29, 27, 26, 25, 24, 23, 27, 26, 29,
    28, 27, 26, 24, 23, 23, 26, 28, 30, 28, 26, 24, 22, 22,
    23, 25, 27, 26, 25, 24, 23, 21, 19, 18, 22, 23, 26, 29,
    28, 26, 23, 21, 20, 18, 17, 21, 23, 24, 23, 21, 19, 17,
    15, 14, 19, 20, 27, 28, 27, 24, 20, 18, 15, 17, 21, 22,
    24, 23, 22, 20, 18, 17, 14, 15, 19, 22, 28, 29, 25, 22,
    20, 19, 17, 24, 26, 25, 25, 23, 21, 19, 18, 17, 21, 25,
    29, 28, 27, 26, 24, 23, 22, 25, 27, 26, 24, 21, 20, 26,
    30, 29, 28, 26, 25, 24, 25, 27, 28, 27, 26, 25, 24, 23,
    22, 25, 27, 28, 29, 27, 26, 24, 22, 21, 20, 22, 23, 24,
    25, 25, 24, 23, 20, 19, 18, 16, 19, 21, 23, 24, 21, 20,
    18, 15, 16, 18, 20, 21, 21, 19, 17, 14, 15, 15, 18, 20,
    22, 21, 25, 23, 22, 19, 18, 17, 19, 21, 23, 24, 26, 28,
    25, 25, 24, 23, 22, 24, 27, 28, 28, 27, 26, 23, 22, 23,
    26, 28, 27, 26, 25, 23, 24, 21, 25, 26, 25, 27, 26, 24,
    23, 22, 21, 21, 24, 25, 26, 25, 23, 22, 21, 20, 21, 23,
    24, 22, 21, 20, 19, 18, 20, 21, 22, 24, 23, 24, 22, 21,
    19, 20, 21, 23, 24, 25, 24, 24, 22, 21, 20, 21, 23, 25,
    26, 27, 24, 22, 21, 20, 19, 21, 23, 24, 22, 21, 20, 18,
    19, 21, 22, 22, 21, 20, 19, 18, 17, 18, 19, 20, 21, 20,
    18, 16, 14, 15, 16, 16, 18, 20, 23, 22, 21, 24, 23, 20,
    20, 18, 17, 19, 20, 22, 23, 24, 23, 21, 20, 19, 18, 19,
    22, 24, 26, 25, 23, 20, 18, 17, 19, 21, 22, 21, 20, 18,
    16, 13, 14, 15, 17, 20, 21, 17, 17, 15, 13, 14, 15, 18,
    19, 20, 19, 17, 16, 14, 13, 11, 14, 16, 19, 21, 22, 23,
    18, 16, 15, 14, 12, 12, 14, 18, 15, 18, 16, 17, 16, 13,
    10, 9, 11, 12, 15, 17, 22, 24, 24, 19, 17, 15, 14, 16,
    20, 23, 23, 17, 13, 15, 18, 24, 26, 24, 22, 21]
dames_f = [
    13.6, 10.5, 6.6, 5.6,
    8.5, 5.3, 12.0, 22.6,
    18.4, 22.6, 19.2, 24.0,
    21.8, 23.5, 21.6, 23.7,
    21.7, 22.8, 20.7, 22.4,
    20.7, 22.6, 19.0, 21.2,
    17.3, 21.2, 19.2, 25.2,
    22.0, 26.3, 22.6, 26.0,
    23.5, 27.0, 24.0, 29.0,
    28.0, 31.0, 30.0, 32.3,
    29.5, 31.5, 30.0, 31.0,
    29.5, 31.0, 28.5, 31.0,
    27.0, 31.0, 27.0, 30.0,
    25.0, 31.0, 25.5, 30.5,
    24.5, 31.0, 25.5, 31.0,
    27.5, 31.0, 27.0, 31.0,
    27.0, 31.0, 26.5, 30.5,
    25.5, 30.0, 25.0, 29.5,
    23.0, 27.0, 21.0, 28.0,
    22.0, 29.0, 24.0, 31.0,
    25.5, 31.5, 28.0, 32.0,
    28.5, 32.0, 29.0, 31.5,
    27.0, 30.5, 26.5, 29.5,
    26.5, 30.5, 27.0, 30.5,
    26.0, 30.0, 26.0, 29.0,
    25.0, 27.0, 23.5, 28.0,
    24.0, 27.0, 24.5, 28.5,
    24.0, 27.0, 22.0, 27.0,
    20.0, 22.5, 18.0, 24.0,
    19.0, 22.0, 16.5, 25.5,
    15.5, 22.5, 17.5, 23.0,
    18.0]
dames_g = [
    12.5, 6.0, 1.4, 1.2,
    1.3, 1.0, 1.5, 8.0,
    2.1, 4.7, 2.0, 12.3,
    6.6, 11.9, 8.0, 15.3,
    9.3, 13.5, 6.8, 14.3,
    8.3, 14.0, 7.4, 12.7,
    6.7, 14.3, 11.7, 27.2,
    17.5, 26.3, 20.6, 27.9,
    22.7, 31.5, 28.0, 32.0,
    29.5, 32.5, 30.5, 32.0,
    30.5, 31.8, 30.0, 31.5,
    30.0, 31.0, 29.5, 31.8,
    29.0, 32.0, 28.5, 31.5,
    28.5, 32.0, 29.5, 32.3,
    30.0, 32.5, 30.5, 32.3,
    30.5, 32.5, 30.5, 32.3,
    30.5, 32.5, 30.5, 32.0,
    30.0, 32.0, 29.5, 31.5,
    30.0, 31.5, 30.5, 31.5,
    31.0, 32.5, 31.5, 32.8,
    32.0, 32.6, 32.0, 32.6,
    31.8, 32.5, 31.8, 32.5,
    31.8, 32.3, 31.8, 32.2,
    31.7, 32.2, 31.6, 32.0,
    31.6, 32.0, 31.5, 31.8,
    31.3, 31.8, 31.3, 31.7,
    31.2, 31.7, 31.2, 31.5,
    31.1, 31.5, 31.2, 31.3,
    31.2, 31.3, 31.2, 31.3,
    31.3, 31.3, 31.3, 31.4,
    31.4, 31.5, 31.5, 31.6,
    31.6]
dames_h = [
    12.7, 6.0, 1.4, 1.1,
    1.3, 0.9, 1.5, 8.2,
    2.1, 4.7, 2.0, 12.3,
    6.6, 11.9, 8.0, 15.3,
    9.3, 13.5, 6.8, 14.3,
    8.3, 14.0, 7.4, 12.7,
    6.7, 14.3, 11.7, 27.2,
    17.5, 26.3, 20.6, 27.9,
    22.7, 31.8, 28.0, 32.0,
    29.5, 32.5, 30.5, 32.0,
    30.5, 31.8, 30.0, 31.5,
    30.0, 31.0, 29.5, 31.8,
    29.0, 32.0, 28.5, 31.5,
    28.5, 32.0, 29.5, 32.3,
    30.0, 32.5, 30.5, 32.3,
    30.5, 32.5, 30.5, 32.3,
    30.5, 32.5, 30.5, 32.0,
    30.0, 32.0, 29.5, 31.5,
    30.0, 31.5, 30.5, 31.0,
    31.0, 32.6, 31.6, 32.8,
    32.0, 32.7, 32.0, 32.6,
    31.8, 32.5, 31.8, 32.5,
    31.8, 32.3, 31.8, 32.2,
    31.7, 32.2, 31.6, 32.0,
    31.6, 32.0, 31.5, 31.8,
    31.3, 31.8, 31.2, 31.7,
    31.2, 31.7, 31.2, 31.5,
    31.1, 31.5, 31.1, 31.3,
    31.2, 31.3, 31.2, 31.3,
    31.3, 31.3, 30.9, 31.4]


def draw_obs(ax, t, v, kind):
    if kind == 'band':
        # dense 15-min record: looks like a continuous thick red band
        ax.plot(t, v, color='red', lw=3, solid_capstyle='round', solid_joinstyle='round', zorder=2)
    elif kind == 'dense':
        ax.plot(t, v, color='red', lw=3, ls=(0, (0.01, 1.05)), dash_capstyle='round', zorder=2)
    elif kind == 'dotted':
        ax.plot(t, v, color='red', lw=3, ls=(0, (0.01, 1.25)), dash_capstyle='round', zorder=2)
    else:
        ax.plot(t, v, 'o', color='red', ms=3.1, mew=0, zorder=2)


stations = [
    (t_day, dancy_obs, t_day, dancy_f, dancy_g, dancy_h, 'band'),
    (t_6h, buckman_obs, t_6h, buckman_f, buckman_g, buckman_h, 'band'),
    (t_6h, christopher_obs, t_6h, christopher_f, christopher_g, christopher_h, 'band'),
    (t_6h, marco_obs, t_6h, marco_f, marco_g, marco_h, 'dense'),
    (t_6h, jax_obs, t_6h, jax_f, jax_g, jax_h, 'dotted'),
    (dames_obs_day, dames_obs_psu, t_6h, dames_f, dames_g, dames_h, 'points'),
]

fig, axes = plt.subplots(2, 3, figsize=(20, 6))
fig.subplots_adjust(left=0.0258, right=0.9907, bottom=0.0533, top=0.951, wspace=0.0948, hspace=0.2016)

for ax, st, title, depth in zip(axes.flat, stations, titles, depths):
    t_obs, obs, t_mod, run_f, run_g, run_h, kind = st
    draw_obs(ax, t_obs, obs, kind)
    ax.plot(t_mod[:len(run_f)], run_f, color='cyan', lw=1.0, zorder=3)
    ax.plot(t_mod[:len(run_g)], run_g, color='green', ls='--', lw=1.0, zorder=4)
    ax.plot(t_mod[:len(run_h)], run_h, color='blue', ls='-.', lw=1.0, zorder=5)

    ax.set_xlim(0, 31)
    ax.set_ylim(0, 40)
    ax.set_xticks(tick_days)
    ax.set_xticklabels(tick_labels)
    ax.set_yticks(np.arange(0, 41, 5))
    ax.tick_params(labelsize=8, length=2.8)
    ax.grid(True, color='#e6e6e6', lw=0.8)
    ax.set_axisbelow(True)
    ax.set_ylabel('Salinity (PSU)', fontsize=8)
    ax.set_title(title, fontsize=9, pad=4)
    ax.text(0.05, 0.933, 'depth=%s m below NAVD, tz=GMT' % depth, transform=ax.transAxes,
            fontsize=7, fontweight='bold', ha='left', va='center')

handles = [Line2D([], [], color='red', marker='o', ls='none', ms=3),
           Line2D([], [], color='cyan', lw=1.2),
           Line2D([], [], color='green', ls='--', lw=1.2),
           Line2D([], [], color='blue', ls='-.', lw=1.2)]
axes[0, 0].legend(handles, ['Obs'] + run_names, loc='upper right', fontsize=6.5)

fig.savefig('out.png', dpi=300)
